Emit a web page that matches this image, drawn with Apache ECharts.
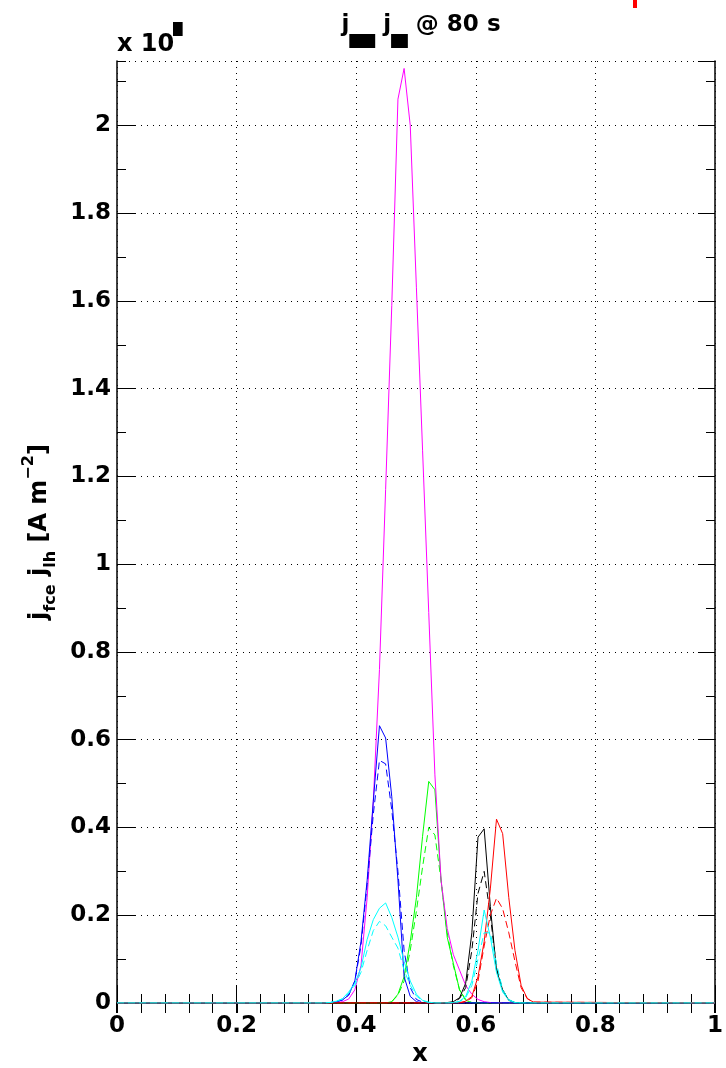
<!DOCTYPE html>
<html>
<head>
<meta charset="utf-8">
<script src="https://cdn.jsdelivr.net/npm/echarts@6/dist/echarts.min.js"></script>
<style>
  html, body { margin: 0; padding: 0; background: #ffffff; }
  #chart { width: 726px; height: 1068px; }
</style>
</head>
<body>
<div id="chart"></div>
<script>
// Normalised radius grid where the profiles are non-zero (profiles are 0 elsewhere)
const xGrid = [0.3462, 0.3565, 0.3668, 0.3771, 0.3874, 0.3977, 0.4080, 0.4183, 0.4286, 0.4389,
               0.4492, 0.4595, 0.4698, 0.4801, 0.4904, 0.5007, 0.5110, 0.5213, 0.5316, 0.5419,
               0.5522, 0.5625, 0.5728, 0.5831, 0.5934, 0.6037, 0.6140, 0.6243, 0.6346, 0.6449,
               0.6552, 0.6655, 0.6758, 0.6861, 0.6964];

// Current density profiles, units of 10^6 A m^-2
const jMagenta    = [0, 0, 0.001, 0.003, 0.009, 0.03, 0.085, 0.24, 0.46, 0.76,
                     1.17, 1.59, 2.06, 2.13, 2.0, 1.63, 1.26, 0.89, 0.52, 0.28,
                     0.17, 0.11, 0.075, 0.04, 0.02, 0.008, 0.003, 0.001, 0, 0,
                     0, 0, 0, 0, 0];
const jBlue       = [0, 0.001, 0.003, 0.007, 0.018, 0.05, 0.14, 0.28, 0.46, 0.632,
                     0.604, 0.47, 0.28, 0.06, 0.015, 0.003, 0, 0, 0, 0,
                     0, 0, 0, 0, 0, 0, 0, 0, 0, 0,
                     0, 0, 0, 0, 0];
const jBlueDash   = [0, 0.001, 0.003, 0.007, 0.018, 0.05, 0.13, 0.27, 0.43, 0.553,
                     0.545, 0.44, 0.30, 0.12, 0.035, 0.008, 0.002, 0, 0, 0,
                     0, 0, 0, 0, 0, 0, 0, 0, 0, 0,
                     0, 0, 0, 0, 0];
const jCyan       = [0, 0.001, 0.004, 0.01, 0.025, 0.045, 0.08, 0.145, 0.19, 0.216,
                     0.228, 0.195, 0.15, 0.095, 0.05, 0.02, 0.006, 0.002, 0, 0,
                     0, 0.001, 0.004, 0.015, 0.05, 0.12, 0.212, 0.15, 0.07, 0.025,
                     0.006, 0.001, 0, 0, 0];
const jCyanDash   = [0, 0.001, 0.004, 0.009, 0.022, 0.04, 0.07, 0.12, 0.165, 0.186,
                     0.176, 0.15, 0.125, 0.075, 0.04, 0.016, 0.005, 0.001, 0, 0,
                     0, 0, 0.003, 0.012, 0.04, 0.10, 0.16, 0.16, 0.09, 0.03,
                     0.008, 0.001, 0, 0, 0];
const jGreen      = [0, 0, 0, 0, 0, 0, 0, 0, 0, 0,
                     0, 0.003, 0.02, 0.06, 0.14, 0.24, 0.38, 0.505, 0.486, 0.28,
                     0.15, 0.09, 0.03, 0.006, 0.001, 0, 0, 0, 0, 0,
                     0, 0, 0, 0, 0];
const jGreenDash  = [0, 0, 0, 0, 0, 0, 0, 0, 0, 0,
                     0, 0.003, 0.018, 0.05, 0.12, 0.21, 0.31, 0.40, 0.383, 0.28,
                     0.16, 0.085, 0.03, 0.008, 0.001, 0, 0, 0, 0, 0,
                     0, 0, 0, 0, 0];
const jBlack      = [0, 0, 0, 0, 0, 0, 0, 0, 0, 0,
                     0, 0, 0, 0, 0, 0, 0, 0, 0, 0,
                     0.001, 0.003, 0.012, 0.045, 0.16, 0.378, 0.397, 0.22, 0.075, 0.03,
                     0.006, 0.001, 0, 0, 0];
const jBlackDash  = [0, 0, 0, 0, 0, 0, 0, 0, 0, 0,
                     0, 0, 0, 0, 0, 0, 0, 0, 0, 0,
                     0, 0.002, 0.01, 0.035, 0.12, 0.25, 0.30, 0.2, 0.08, 0.03,
                     0.007, 0.001, 0, 0, 0];
const jRed        = [0, 0, 0, 0, 0, 0, 0, 0, 0, 0,
                     0, 0, 0, 0, 0, 0, 0, 0, 0, 0,
                     0, 0, 0.001, 0.004, 0.015, 0.06, 0.14, 0.26, 0.419, 0.386,
                     0.24, 0.12, 0.04, 0.01, 0.002];
const jRedDash    = [0, 0, 0, 0, 0, 0, 0, 0, 0, 0,
                     0, 0, 0, 0, 0, 0, 0, 0, 0, 0,
                     0, 0, 0, 0.003, 0.012, 0.05, 0.13, 0.2, 0.239, 0.215,
                     0.16, 0.095, 0.035, 0.01, 0.002];

const xMin = 0, xMax = 1, xStep = 0.2;
const yMin = 0, yMax = 2.147, yStep = 0.2, yMinorStep = 0.1;

const FONT = 'DejaVu Sans';
const DASH = [7, 4];

// profile -> [x, y] pairs, closed with zeros at both ends of the radius
function profile(vals) {
  return [[xMin, 0]].concat(xGrid.map((x, i) => [x, vals[i]]), [[xMax, 0]]);
}

function line(vals, color, dashed, z) {
  return {
    type: 'line',
    data: profile(vals),
    symbol: 'none',
    smooth: false,
    silent: true,
    z: z,
    lineStyle: { color: color, width: 1, type: dashed ? DASH : 'solid' },
    xAxisIndex: 0,
    yAxisIndex: 0
  };
}

const dotted = { color: '#000', width: 1, type: [1, 5] };
const frame = { show: true, lineStyle: { color: '#111', width: 1.6 } };
const tickFont = { color: '#000', fontFamily: FONT, fontWeight: 'bold', fontSize: 23 };

const chart = echarts.init(document.getElementById('chart'), null, { renderer: 'canvas' });

chart.setOption({
  animation: false,
  backgroundColor: '#ffffff',
  grid: { left: 117, right: 3, top: 61, bottom: 65, containLabel: false },
  xAxis: [
    {
      type: 'value', position: 'bottom', min: xMin, max: xMax, interval: xStep,
      axisLine: frame,
      axisTick: { show: true, inside: true, length: 18, lineStyle: { color: '#000', width: 1 } },
      minorTick: { show: true, splitNumber: 5, length: 9, lineStyle: { color: '#000', width: 1 } },
      axisLabel: Object.assign({ show: true, margin: 12 }, tickFont),
      splitLine: { show: true, lineStyle: dotted },
      minorSplitLine: { show: false }
    },
    {
      type: 'value', position: 'top', min: xMin, max: xMax, interval: xStep,
      axisLine: frame,
      axisTick: { show: true, inside: true, length: 10, lineStyle: { color: '#000', width: 2 } },
      minorTick: { show: true, splitNumber: 5, length: 10, lineStyle: { color: '#000', width: 1 } },
      axisLabel: { show: false },
      splitLine: { show: false }
    }
  ],
  yAxis: [
    {
      type: 'value', position: 'left', min: yMin, max: yMax, interval: yStep,
      axisLine: frame,
      axisTick: { show: true, inside: true, length: 18, lineStyle: { color: '#000', width: 1 } },
      axisLabel: Object.assign({ show: true, showMaxLabel: false, margin: 6 }, tickFont),
      splitLine: { show: true, lineStyle: dotted }
    },
    {
      type: 'value', position: 'left', min: yMin, max: yMax, interval: yMinorStep,
      axisLine: { show: false },
      axisTick: { show: true, inside: true, length: 9, lineStyle: { color: '#000', width: 1 } },
      axisLabel: { show: false },
      splitLine: { show: false }
    },
    {
      type: 'value', position: 'right', min: yMin, max: yMax, interval: yStep,
      axisLine: frame,
      axisTick: { show: true, inside: true, length: 17, lineStyle: { color: '#000', width: 1 } },
      axisLabel: { show: false },
      splitLine: { show: false }
    },
    {
      type: 'value', position: 'right', min: yMin, max: yMax, interval: yMinorStep,
      axisLine: { show: false },
      axisTick: { show: true, inside: true, length: 9, lineStyle: { color: '#000', width: 1 } },
      axisLabel: { show: false },
      splitLine: { show: false }
    }
  ],
  series: [
    line(jGreen, '#00ff00', false, 2),
    line(jGreenDash, '#00ff00', true, 2),
    line(jMagenta, '#ff00ff', false, 3),
    line(jBlue, '#0000ff', false, 4),
    line(jBlueDash, '#0000ff', true, 4),
    line(jBlack, '#000000', false, 5),
    line(jBlackDash, '#000000', true, 5),
    line(jRed, '#ff0000', false, 6),
    line(jRedDash, '#ff0000', true, 6),
    line(jCyan, '#00ffff', false, 7),
    line(jCyanDash, '#00ffff', true, 7)
  ],
  graphic: [
    // title: j_fce j_lh @ 80 s (subscripts printed as filled boxes)
    {
      type: 'text', x: 421, y: 14, z: 10,
      style: {
        text: '{m|j}{b|fce}{m| j}{b|lh}{m| @ 80 s}',
        align: 'center', verticalAlign: 'top',
        rich: {
          m: { fontFamily: FONT, fontWeight: 'bold', fontSize: 23, color: '#000', lineHeight: 34, verticalAlign: 'top' },
          b: { fontFamily: FONT, fontWeight: 'bold', fontSize: 14, color: '#000', backgroundColor: '#000',
               padding: [0, 1, 0, 1], verticalAlign: 'bottom' }
        }
      }
    },
    // axis multiplier
    {
      type: 'text', x: 117, y: 45, z: 10,
      style: { text: 'x 10', fontFamily: FONT, fontWeight: 'bold', fontSize: 24, fill: '#000', align: 'left', verticalAlign: 'middle' }
    },
    {
      type: 'text', x: 173, y: 22, z: 10,
      style: { text: '6', fontFamily: FONT, fontSize: 12, fill: '#000', backgroundColor: '#000',
               padding: [1, 1, 1, 1], align: 'left', verticalAlign: 'top' }
    },
    // y axis title
    {
      type: 'text', x: 40, y: 532, rotation: Math.PI / 2, z: 10,
      style: {
        text: '{m|j}{s|fce}{m| j}{s|lh}{m| [A m}{p|\u22122}{m|]}',
        align: 'center', verticalAlign: 'middle',
        rich: {
          m: { fontFamily: FONT, fontWeight: 'bold', fontSize: 24, color: '#000', lineHeight: 38 },
          s: { fontFamily: FONT, fontWeight: 'bold', fontSize: 16, color: '#000', verticalAlign: 'bottom' },
          p: { fontFamily: FONT, fontWeight: 'bold', fontSize: 16, color: '#000', verticalAlign: 'top' }
        }
      }
    },
    // x axis title
    {
      type: 'text', x: 420, y: 1055, z: 10,
      style: { text: 'x', fontFamily: FONT, fontWeight: 'bold', fontSize: 24, fill: '#000', align: 'center', verticalAlign: 'middle' }
    },
    // red marker at the top edge
    {
      type: 'rect', z: 10,
      shape: { x: 633, y: 0, width: 4, height: 8 },
      style: { fill: '#ff0000' }
    }
  ]
});
</script>
</body>
</html>
